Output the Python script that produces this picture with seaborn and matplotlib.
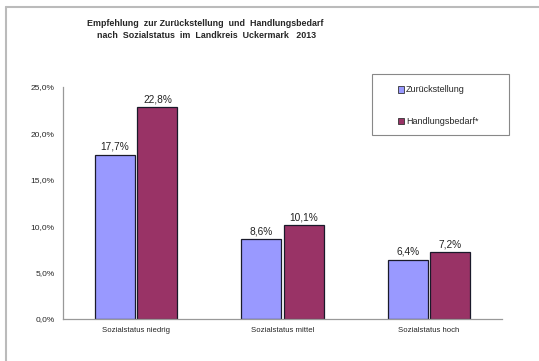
import matplotlib
matplotlib.use("Agg")
import matplotlib.pyplot as plt
import seaborn as sns
import pandas as pd
from matplotlib.patches import Patch, Rectangle
from matplotlib.lines import Line2D

categories = ["Sozialstatus niedrig", "Sozialstatus mittel", "Sozialstatus hoch"]
series_names = ["Zurückstellung", "Handlungsbedarf*"]
zurueck = [17.7, 8.6, 6.4]
handlung = [22.8, 10.1, 7.2]
yticks = [0, 5, 10, 15, 20, 25]

df = pd.DataFrame({
    "Kategorie": categories * 2,
    "Serie": [series_names[0]] * 3 + [series_names[1]] * 3,
    "Wert": zurueck + handlung,
})

sns.set_style("white")
plt.rcParams["font.family"] = ["Liberation Sans", "DejaVu Sans"]

W, H = 539, 361
fig = plt.figure(figsize=(W / 100, H / 100), dpi=100)
ax = fig.add_axes([63 / W, 1 - 319 / H, (502 - 63) / W, (319 - 87) / H])

colors = ["#9999FF", "#993366"]
sns.barplot(data=df, x="Kategorie", y="Wert", hue="Serie", palette=colors,
            width=0.58, gap=0.06, edgecolor="#1a1a2a", linewidth=0.9,
            saturation=1, legend=False, ax=ax)

for cont in ax.containers:
    ax.bar_label(cont, labels=[f"{v:.1f}%".replace(".", ",") for v in cont.datavalues],
                 fontsize=7.3, padding=2, color="#222222")

ax.set_ylim(0, 25)
ax.set_xlim(-0.5, 2.5)
ax.set_yticks(yticks)
ax.set_yticklabels([f"{v:.1f}%".replace(".", ",") for v in yticks], fontsize=6)
ax.set_xticks(range(3))
ax.set_xticklabels(categories, fontsize=5.6)
ax.set_xticks([-0.5, 0.5, 1.5, 2.5], minor=True)
ax.tick_params(axis="x", which="major", length=0, pad=6)
ax.tick_params(axis="x", which="minor", length=3, color="#888888", width=0.8, direction="out")
ax.tick_params(axis="y", length=3, color="#888888", width=0.8, direction="out", pad=3)
ax.set_xlabel("")
ax.set_ylabel("")
for s in ["top", "right"]:
    ax.spines[s].set_visible(False)
for s in ["left", "bottom"]:
    ax.spines[s].set_color("#999999")
    ax.spines[s].set_linewidth(0.9)

fig.text(205 / W, 1 - 24 / H, "Empfehlung  zur Zurückstellung  und  Handlungsbedarf",
         ha="center", va="center", fontsize=6.4, fontweight="bold")
fig.text(207 / W, 1 - 35 / H, "nach  Sozialstatus  im  Landkreis  Uckermark   2013",
         ha="center", va="center", fontsize=6.4, fontweight="bold")

# figure border (top and left)
fig.add_artist(Line2D([6 / W, 1], [1 - 7 / H, 1 - 7 / H], transform=fig.transFigure,
                      color="#bbbbbb", linewidth=1.5))
fig.add_artist(Line2D([6 / W, 6 / W], [0, 1 - 7 / H], transform=fig.transFigure,
                      color="#bbbbbb", linewidth=1.5))

# legend frame
fig.add_artist(Rectangle((372 / W, 1 - 135 / H), (509 - 372) / W, (135 - 74) / H,
                         transform=fig.transFigure, facecolor="white",
                         edgecolor="#888888", linewidth=0.8))
handles = [Patch(facecolor=colors[0], edgecolor="#333333", linewidth=0.6),
           Patch(facecolor=colors[1], edgecolor="#333333", linewidth=0.6)]
leg = fig.legend(handles, series_names, loc="upper left",
                 bbox_to_anchor=(398 / W, 1 - 85.5 / H), fontsize=6.5,
                 frameon=False, handlelength=0.7, handleheight=0.7,
                 handletextpad=0.2, labelspacing=2.5, borderpad=0,
                 borderaxespad=0)

fig.savefig("out.png", dpi=100, facecolor="white")
